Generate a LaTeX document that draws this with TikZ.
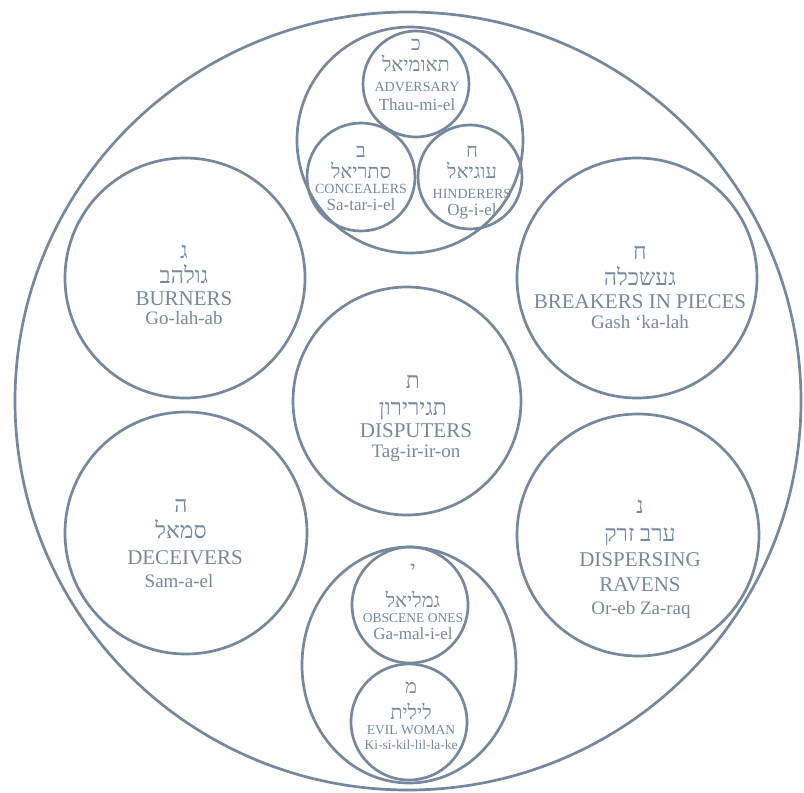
\documentclass[tikz,border=0pt]{standalone}
\usepackage{fontspec}
\setmainfont{Liberation Serif}
\newfontfamily\hebfont[Script=Hebrew]{Liberation Serif}
\TeXXeTstate=1
\definecolor{slate}{RGB}{118,136,158}
\newcommand{\heb}[1]{{\hebfont\beginR #1\endR}}
\tikzset{
  ring/.style={draw=slate, line width=2.7pt},
  label/.style={anchor=base, text=slate, inner sep=0pt},
  heblg/.style={label, font=\fontsize{23}{27}\selectfont},
  capslg/.style={label, font=\fontsize{21}{25}\selectfont},
  namelg/.style={label, font=\fontsize{19}{23}\selectfont},
  hebsm/.style={label, font=\fontsize{20}{24}\selectfont},
  capssm/.style={label, font=\fontsize{14}{17}\selectfont},
  namesm/.style={label, font=\fontsize{17}{21}\selectfont},
  tinysm/.style={label, font=\fontsize{13.5}{16}\selectfont}
}
\begin{document}
\begin{tikzpicture}[x=1pt, y=-1pt]
\useasboundingbox (0,0) rectangle (804,793);

% Outer ring
\draw[ring] (408,401) ellipse (393 and 389);

% Upper cluster of three
\draw[ring] (410,140) circle (113);
\draw[ring] (416,84) circle (53);
\draw[ring] (361,177) circle (54);
\draw[ring] (470,177) circle (52);

\node[hebsm] (thauL) at (416,50) {\heb{כ}};
\node[hebsm] (thauH) at (416,71) {\heb{תאומיאל}};
\node[capssm] (thauE) at (417,91) {ADVERSARY};
\node[namesm] (thauN) at (417,110) {Thau-mi-el};

\node[hebsm] (satL) at (361,157) {\heb{ב}};
\node[hebsm] (satH) at (361,178) {\heb{סתריאל}};
\node[capssm] (satE) at (361,193) {CONCEALERS};
\node[namesm] (satN) at (361,210) {Sa-tar-i-el};

\node[hebsm] (ogL) at (472,157) {\heb{ח}};
\node[hebsm] (ogH) at (472,178) {\heb{עוגיאל}};
\node[capssm] (ogE) at (472,198) {HINDERERS};
\node[namesm] (ogN) at (472,215) {Og-i-el};

% Six large circles
\draw[ring] (185,278) circle (120);
\draw[ring] (637,278) circle (120);
\draw[ring] (407,401) circle (114);
\draw[ring] (186,533) circle (121);
\draw[ring] (638,535) circle (121);

\node[heblg] (burnL) at (184,258) {\heb{ג}};
\node[heblg] (burnH) at (184,283) {\heb{גולהב}};
\node[capslg] (burnE) at (184,305) {BURNERS};
\node[namelg] (burnN) at (184,324) {Go-lah-ab};

\node[heblg] (gashL) at (640,259) {\heb{ח}};
\node[heblg] (gashH) at (640,285) {\heb{געשכלה}};
\node[capslg] (gashE) at (640,308) {BREAKERS IN PIECES};
\node[namelg] (gashN) at (640,328) {Gash ‘ka-lah};

\node[heblg] (tagL) at (413,388) {\heb{ת}};
\node[heblg] (tagH) at (413,415) {\heb{תגירירון}};
\node[capslg] (tagE) at (416,437) {DISPUTERS};
\node[namelg] (tagN) at (416,457) {Tag-ir-ir-on};

\node[heblg] (samL) at (181,512) {\heb{ה}};
\node[heblg] (samH) at (181,538) {\heb{סמאל}};
\node[capslg] (samE) at (185,564) {DECEIVERS};
\node[namelg] (samN) at (179,587) {Sam-a-el};

\node[heblg] (orebL) at (640,513) {\heb{נ}};
\node[heblg] (orebH) at (640,541) {\heb{ערב זרק}};
\node[capslg] (orebE) at (640,566) {DISPERSING};
\node[capslg] (orebF) at (640,591) {RAVENS};
\node[namelg] (orebN) at (641,614) {Or-eb Za-raq};

% Lower cluster of two
\draw[ring] (409,665) ellipse (107 and 118);
\draw[ring] (410,605) circle (58);
\draw[ring] (409,722) circle (58);

\node[hebsm] (gamL) at (413,575) {\heb{י}};
\node[hebsm] (gamH) at (413,607) {\heb{גמליאל}};
\node[tinysm] (gamE) at (413,622) {OBSCENE ONES};
\node[namesm] (gamN) at (413,639) {Ga-mal-i-el};

\node[hebsm] (lilL) at (411,693) {\heb{מ}};
\node[hebsm] (lilH) at (411,719) {\heb{לילית}};
\node[tinysm] (lilE) at (411,734) {EVIL WOMAN};
\node[tinysm] (lilN) at (411,749) {Ki-si-kil-lil-la-ke};

\end{tikzpicture}
\end{document}
